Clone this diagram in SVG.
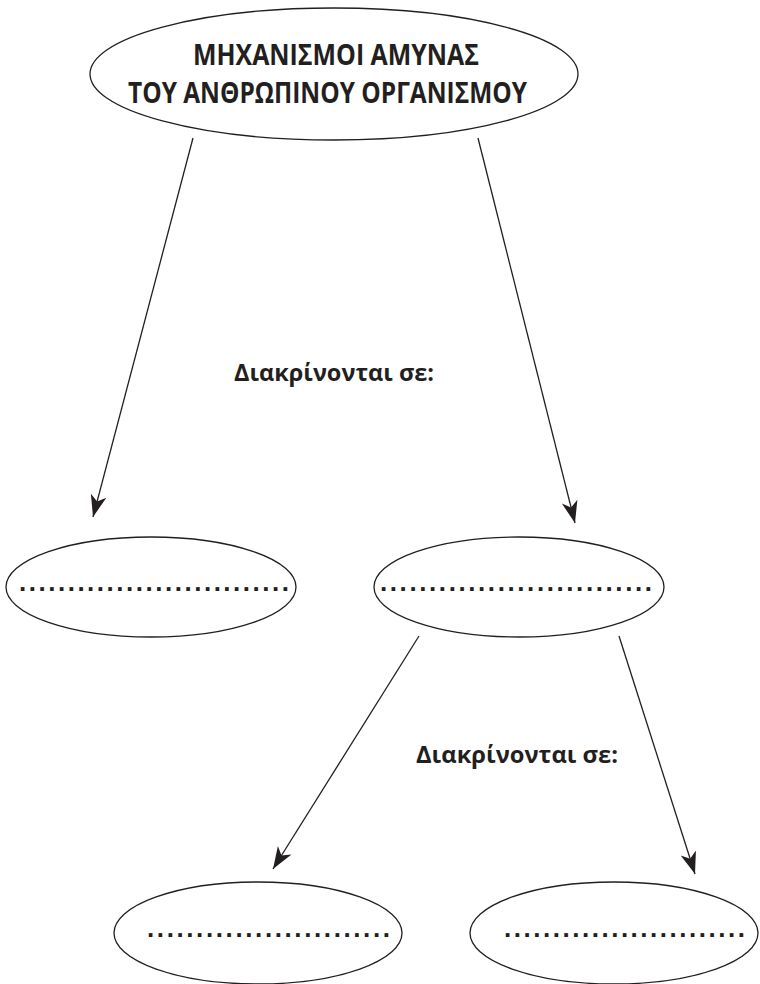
<svg xmlns="http://www.w3.org/2000/svg" width="760" height="984" viewBox="0 0 760 984">
<style>
.node{fill:#fff;stroke:#231f20;stroke-width:1.3}
.title{font-family:"Open Sans","Liberation Sans",sans-serif;font-weight:bold;font-size:28px;fill:#231f20}
.lbl{font-family:"Open Sans","Liberation Sans",sans-serif;font-weight:bold;font-size:24px;fill:#231f20}
.dots{font-family:"Liberation Sans",sans-serif;font-weight:bold;font-size:26px;fill:#231f20}
.conn{stroke:#231f20;stroke-width:1.3;fill:none;marker-end:url(#arr)}
</style>
<defs>
<marker id="arr" markerUnits="userSpaceOnUse" markerWidth="24" markerHeight="18" refX="22" refY="8" orient="auto" viewBox="0 0 24 16">
<path d="M22,8 L0,0 L6,8 L0,16 Z" fill="#231f20"/>
</marker>
</defs>
<g id="connectors">
<line class="conn" x1="193" y1="138" x2="93" y2="517"/>
<line class="conn" x1="478" y1="138" x2="575" y2="523"/>
<line class="conn" x1="419" y1="636" x2="273" y2="869"/>
<line class="conn" x1="619" y1="636" x2="695" y2="874"/>
</g>
<g id="root">
<ellipse class="node" cx="334" cy="74" rx="244" ry="66"/>
<text class="title" x="193" y="65" textLength="286" lengthAdjust="spacingAndGlyphs">ΜΗΧΑΝΙΣΜΟΙ ΑΜΥΝΑΣ</text>
<text class="title" x="128" y="103" textLength="399" lengthAdjust="spacingAndGlyphs">ΤΟΥ ΑΝΘΡΩΠΙΝΟΥ ΟΡΓΑΝΙΣΜΟΥ</text>
</g>
<g id="label1">
<text class="lbl" x="234" y="381" textLength="200" lengthAdjust="spacingAndGlyphs">Διακρίνονται σε:</text>
</g>
<g id="node-left">
<ellipse class="node" cx="151" cy="587" rx="145" ry="50"/>
<text class="dots" x="19" y="591" textLength="270" lengthAdjust="spacing">............................</text>
</g>
<g id="node-right">
<ellipse class="node" cx="519" cy="587" rx="145" ry="50"/>
<text class="dots" x="380" y="591" textLength="272" lengthAdjust="spacing">............................</text>
</g>
<g id="label2">
<text class="lbl" x="416" y="763" textLength="202" lengthAdjust="spacingAndGlyphs">Διακρίνονται σε:</text>
</g>
<g id="node-bl">
<ellipse class="node" cx="258" cy="933" rx="144" ry="51"/>
<text class="dots" x="147" y="937" textLength="243" lengthAdjust="spacing">.........................</text>
</g>
<g id="node-br">
<ellipse class="node" cx="614" cy="933" rx="144" ry="51"/>
<text class="dots" x="504" y="937" textLength="241" lengthAdjust="spacing">.........................</text>
</g>
</svg>
